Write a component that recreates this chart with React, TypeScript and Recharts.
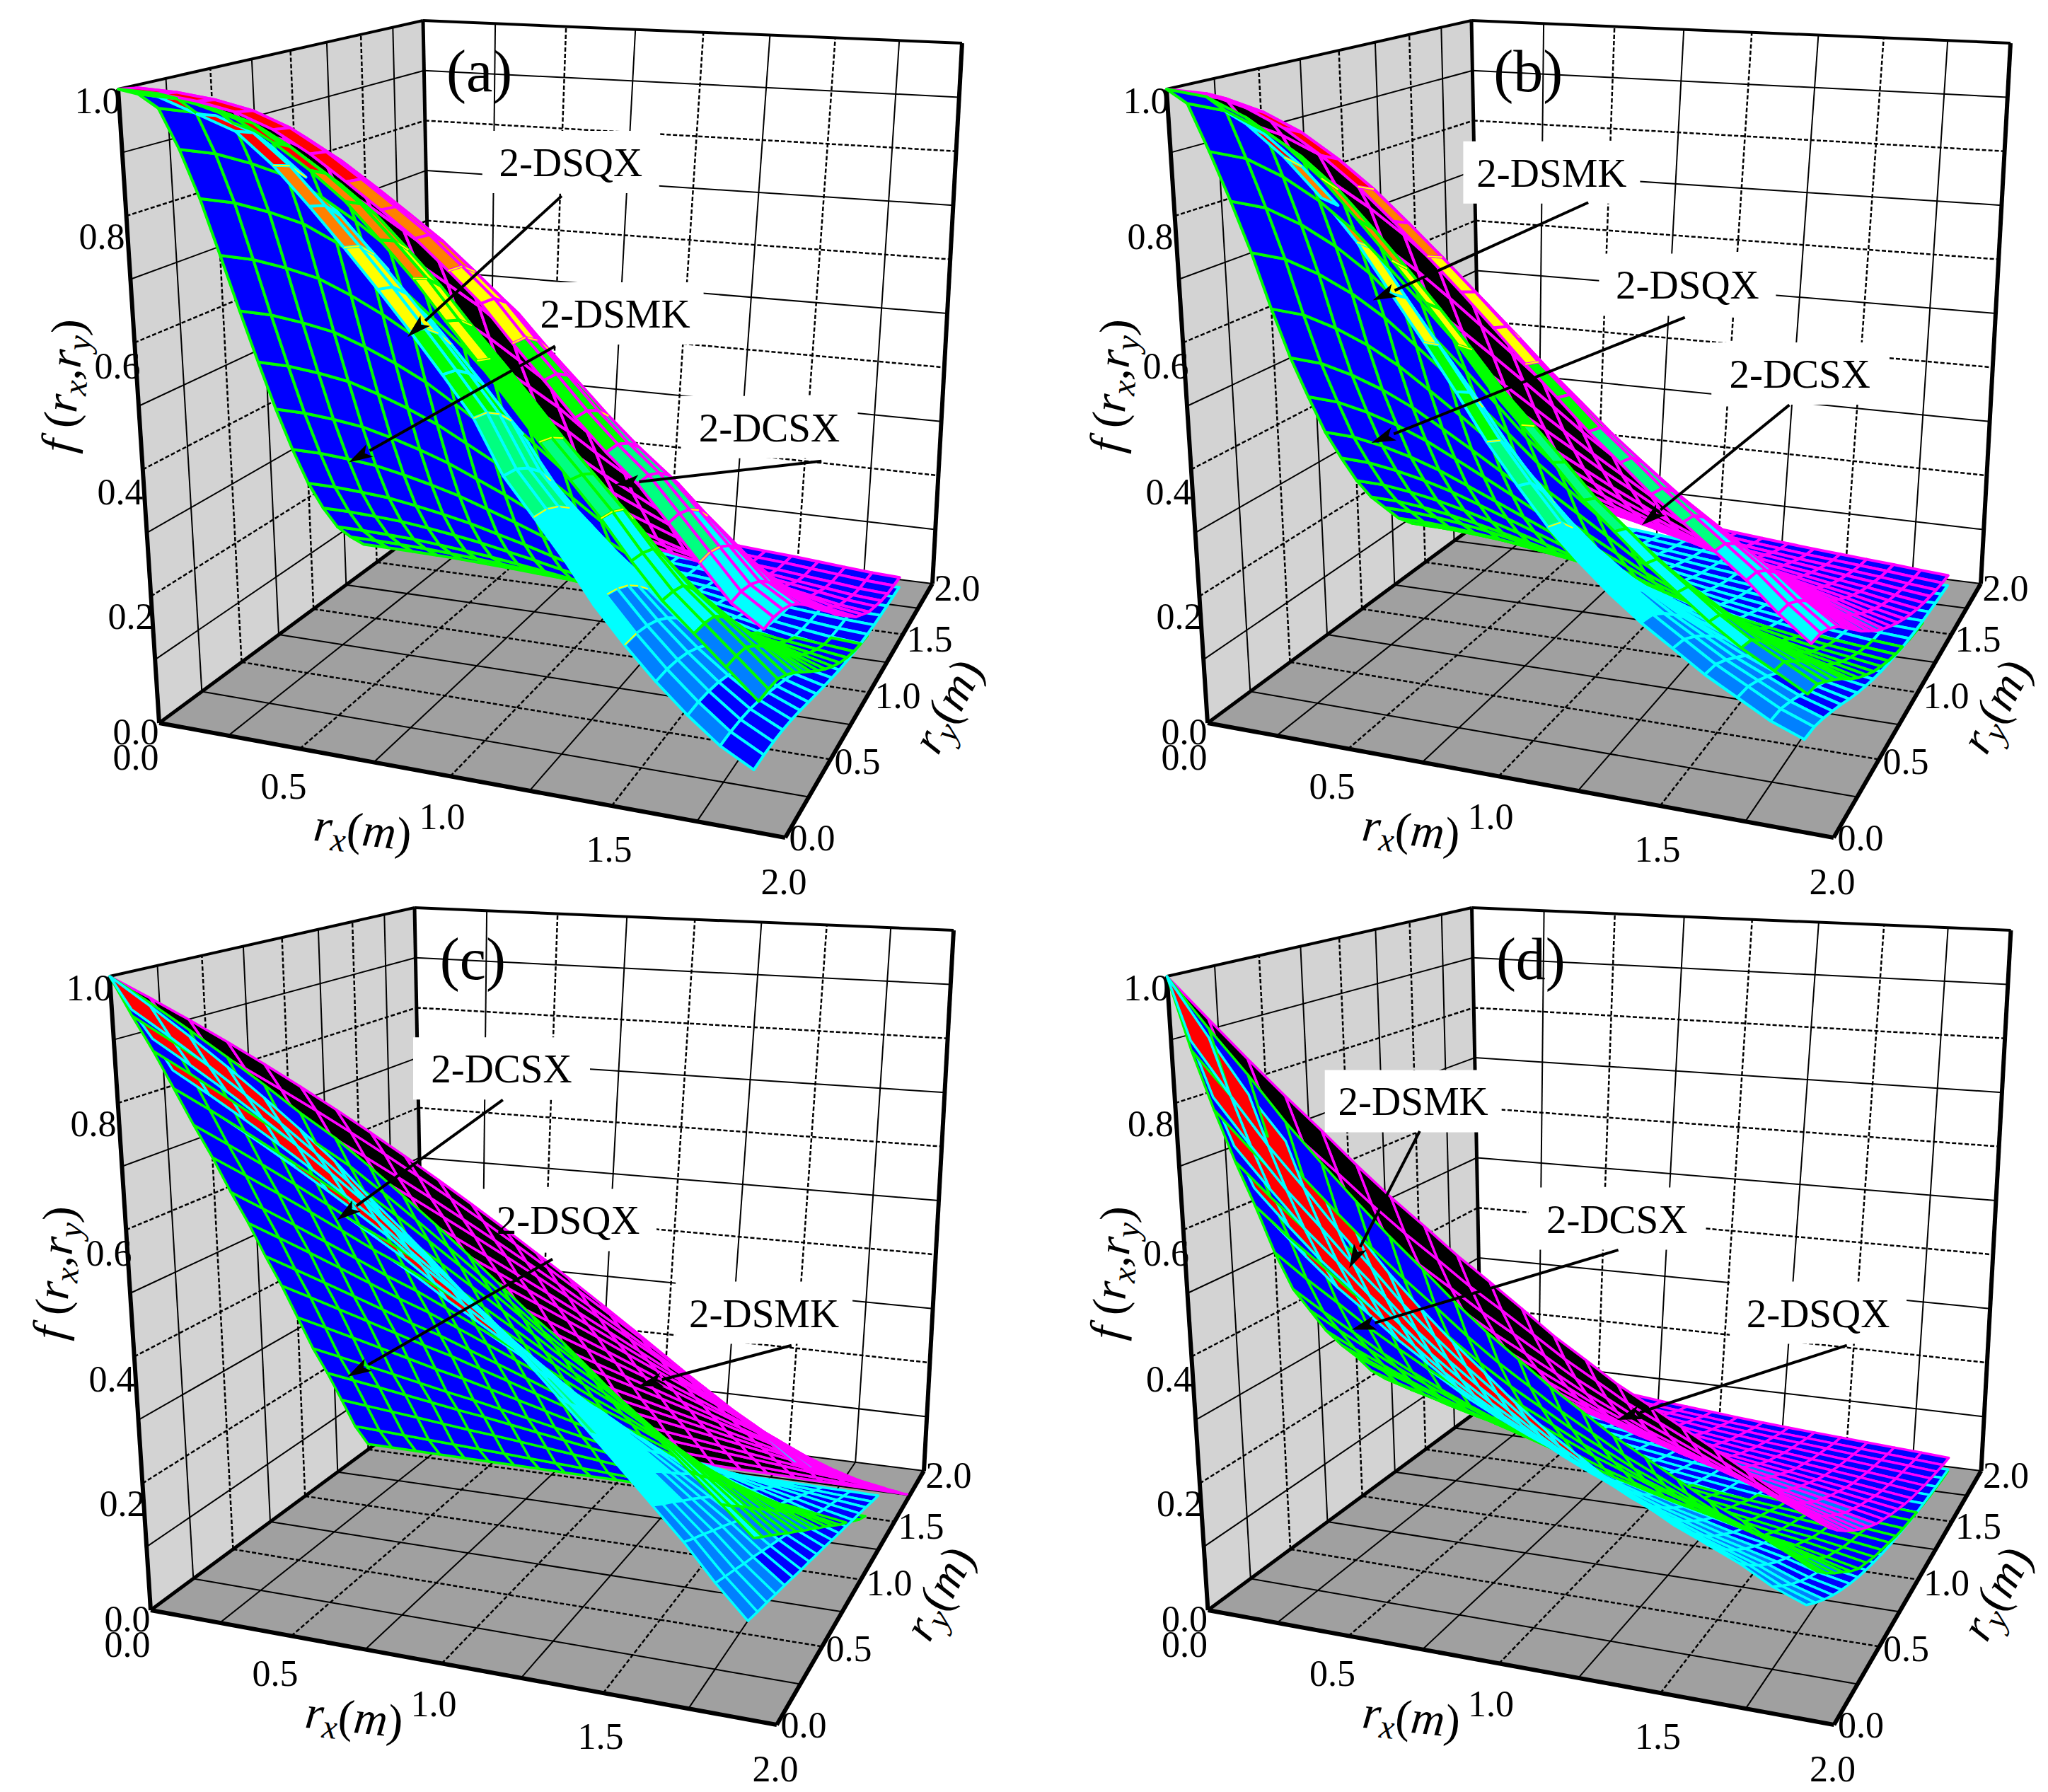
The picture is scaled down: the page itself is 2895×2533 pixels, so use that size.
// App.tsx - four 3D correlation surfaces drawn through a ScatterChart with custom shapes
import { ScatterChart, Scatter, XAxis, YAxis } from 'recharts';

const W = 2895;
const H = 2533;
const V = W / 1568; // reference view to full size

// grid nodes of the surfaces (m)
const rxNodes = [0, 0.1, 0.2, 0.3, 0.4, 0.5, 0.6, 0.7, 0.8, 0.9, 1.0, 1.1, 1.2, 1.3, 1.4, 1.5, 1.6, 1.7, 1.8, 1.9, 2.0];
const ryNodes = [0, 0.1, 0.2, 0.3, 0.4, 0.5, 0.6, 0.7, 0.8, 0.9, 1.0, 1.1, 1.2, 1.3, 1.4, 1.5, 1.6, 1.7, 1.8, 1.9];
const axisTicks = ['0.0', '0.5', '1.0', '1.5', '2.0'];
const fTicks = ['0.0', '0.2', '0.4', '0.6', '0.8', '1.0'];

// panel (a), profiles read along ry=0 and rx=0
const aGreenX = [1, 0.995, 0.98, 0.96, 0.925, 0.885, 0.84, 0.785, 0.73, 0.67, 0.615, 0.56, 0.505, 0.455, 0.405, 0.35, 0.3, 0.26, 0.22, 0.18];
const aGreenY = [1, 0.985, 0.955, 0.88, 0.79, 0.685, 0.58, 0.48, 0.385, 0.3, 0.225, 0.165, 0.115, 0.08, 0.05];
const aCyanX = [1, 0.99, 0.965, 0.94, 0.89, 0.83, 0.77, 0.71, 0.65, 0.59, 0.53, 0.45, 0.395, 0.34, 0.28, 0.23, 0.185, 0.145, 0.11, 0.085];
const aCyanY = [1, 0.99, 0.96, 0.915, 0.85, 0.77, 0.68, 0.59, 0.5, 0.42, 0.34, 0.28, 0.22, 0.175, 0.14, 0.11, 0.09, 0.075, 0.06, 0.05];
const aPinkX = [1, 0.995, 0.985, 0.97, 0.945, 0.91, 0.87, 0.83, 0.79, 0.745, 0.7, 0.645, 0.595, 0.545, 0.5, 0.46, 0.41, 0.36, 0.31, 0.28];
const aPinkY = [1, 0.995, 0.97, 0.93, 0.87, 0.8, 0.72, 0.645, 0.57, 0.49, 0.42, 0.35, 0.28, 0.23, 0.18, 0.15, 0.12, 0.1, 0.09, 0.08];

// panel (b)
const bGreenX = [1, 0.99, 0.96, 0.92, 0.87, 0.81, 0.75, 0.69, 0.63, 0.57, 0.52, 0.47, 0.42, 0.38, 0.34, 0.305, 0.27, 0.24, 0.215, 0.19];
const bGreenY = [1, 0.97, 0.885, 0.795, 0.7, 0.595, 0.5, 0.42, 0.345, 0.285, 0.23, 0.185, 0.15, 0.115, 0.09, 0.07];
const bCyanX = [1, 0.985, 0.95, 0.9, 0.84, 0.775, 0.7, 0.63, 0.56, 0.49, 0.43, 0.375, 0.33, 0.29, 0.255, 0.225, 0.195, 0.17, 0.145, 0.127];
const bCyanY = [1, 0.975, 0.91, 0.83, 0.745, 0.65, 0.565, 0.49, 0.42, 0.36, 0.31, 0.265, 0.22, 0.185, 0.155, 0.13, 0.11, 0.09, 0.075, 0.06];
const bPinkX = [1, 0.995, 0.975, 0.945, 0.905, 0.86, 0.81, 0.76, 0.71, 0.66, 0.61, 0.565, 0.52, 0.48, 0.44, 0.405, 0.37, 0.335, 0.295, 0.26];
const bPinkY = [1, 0.985, 0.94, 0.88, 0.8, 0.72, 0.64, 0.57, 0.5, 0.44, 0.385, 0.335, 0.29, 0.25, 0.215, 0.185, 0.16, 0.135, 0.115, 0.1];

// panel (c)
const cGreenX = [1, 0.96, 0.92, 0.88, 0.84, 0.8, 0.765, 0.725, 0.685, 0.645, 0.605, 0.565, 0.525, 0.49, 0.45, 0.41, 0.37, 0.33, 0.29, 0.25];
const cGreenY = [1, 0.93, 0.865, 0.795, 0.725, 0.66, 0.59, 0.525, 0.455, 0.39, 0.32, 0.25, 0.19, 0.125, 0.06, 0.01];
const cCyanX = [1, 0.955, 0.91, 0.865, 0.82, 0.775, 0.73, 0.68, 0.635, 0.59, 0.545, 0.5, 0.455, 0.41, 0.365, 0.32, 0.275, 0.23, 0.18, 0.135];
const cCyanY = [1, 0.94, 0.885, 0.825, 0.77, 0.71, 0.65, 0.595, 0.535, 0.48, 0.42, 0.36, 0.305, 0.245, 0.19, 0.13, 0.07, 0.015];
const cPinkX = [1, 0.968, 0.936, 0.904, 0.872, 0.84, 0.808, 0.776, 0.744, 0.712, 0.68, 0.648, 0.616, 0.584, 0.552, 0.52, 0.488, 0.456, 0.424, 0.392, 0.36];
const cPinkY = [1, 0.945, 0.885, 0.83, 0.77, 0.715, 0.66, 0.6, 0.545, 0.485, 0.43, 0.37, 0.315, 0.26, 0.2, 0.145, 0.085, 0.03];

// panel (d)
const dGreenX = [1, 0.92, 0.85, 0.78, 0.72, 0.665, 0.615, 0.57, 0.525, 0.485, 0.45, 0.415, 0.385, 0.355, 0.33, 0.305, 0.28, 0.26, 0.235, 0.21];
const dGreenY = [1, 0.875, 0.77, 0.675, 0.59, 0.5, 0.425, 0.375, 0.325, 0.285, 0.25, 0.21, 0.18, 0.155, 0.13, 0.11, 0.09, 0.075, 0.06, 0.05];
const dCyanX = [1, 0.905, 0.82, 0.75, 0.68, 0.62, 0.56, 0.51, 0.465, 0.425, 0.385, 0.35, 0.32, 0.29, 0.265, 0.24, 0.22, 0.2, 0.175, 0.157];
const dCyanY = [1, 0.89, 0.79, 0.7, 0.62, 0.55, 0.485, 0.43, 0.38, 0.335, 0.295, 0.26, 0.23, 0.2, 0.175, 0.155, 0.135, 0.115, 0.1, 0.085];
const dPinkX = [1, 0.935, 0.875, 0.82, 0.77, 0.72, 0.675, 0.635, 0.595, 0.56, 0.525, 0.49, 0.46, 0.43, 0.405, 0.38, 0.355, 0.33, 0.305, 0.28];
const dPinkY = [1, 0.9, 0.81, 0.73, 0.66, 0.595, 0.535, 0.48, 0.43, 0.39, 0.35, 0.315, 0.28, 0.25, 0.225, 0.2, 0.18, 0.16, 0.14, 0.125];

const bandColors = ['#0000ff', '#0080ff', '#00ffff', '#00ff80', '#00ff00', '#ffff00', '#ff8000', '#ff0000'];
const GREEN = '#00ff00';
const CYAN = '#00ffff';
const PINK = '#ff00ff';

// box corners of panel (a), the others are shifted copies
const box = {
  O: [225, 1022], A: [1110, 1184], C: [1318, 825], B: [612, 736],
  T0: [167, 126], Tb: [598, 29], Tc: [1360, 61],
};

const panels = [
  {
    name: '(a)', dx: 0, dy: 0, namePos: [367, 58], meshW: 4,
    surfaces: [
      { x: aPinkX, y: aPinkY, mesh: PINK, under: '#000000', bias: 0 },
      { x: aCyanX, y: aCyanY, mesh: CYAN, under: '#0000ff', bias: 0.02 },
      { x: aGreenX, y: aGreenY, mesh: GREEN, under: '#0000ff', bias: 0.05 },
    ],
    notes: [
      { t: '2-DSQX', c: [437, 124], from: [430, 150], to: [312, 258] },
      { t: '2-DSMK', c: [471, 240], from: [425, 265], to: [267, 354] },
      { t: '2-DCSX', c: [589, 327], from: [629, 353], to: [471, 371] },
    ],
  },
  {
    name: '(b)', dx: 1482, dy: 0, namePos: [1170, 58], meshW: 4,
    surfaces: [
      { x: bPinkX, y: bPinkY, mesh: PINK, under: '#000000', bias: 0 },
      { x: bCyanX, y: bCyanY, mesh: CYAN, under: '#0000ff', bias: 0.02 },
      { x: bGreenX, y: bGreenY, mesh: GREEN, under: '#0000ff', bias: 0.05 },
    ],
    notes: [
      { t: '2-DSMK', c: [1188, 132], from: [1216, 155], to: [1051, 230] },
      { t: '2-DSQX', c: [1292, 218], from: [1290, 243], to: [1050, 339] },
      { t: '2-DCSX', c: [1378, 286], from: [1370, 310], to: [1257, 402] },
    ],
  },
  {
    name: '(c)', dx: -12, dy: 1254, namePos: [362, 738], meshW: 3.5,
    surfaces: [
      { x: cPinkX, y: cPinkY, mesh: PINK, under: '#000000', bias: 0 },
      { x: cCyanX, y: cCyanY, mesh: CYAN, under: '#ff0000', bias: 0.04 },
      { x: cGreenX, y: cGreenY, mesh: GREEN, under: '#0000ff', bias: 0.03 },
    ],
    notes: [
      { t: '2-DCSX', c: [384, 818], from: [385, 842], to: [258, 934] },
      { t: '2-DSQX', c: [435, 934], from: [423, 964], to: [266, 1054] },
      { t: '2-DSMK', c: [585, 1005], from: [606, 1030], to: [489, 1061] },
    ],
  },
  {
    name: '(d)', dx: 1482.5, dy: 1254, namePos: [1172, 738], meshW: 3.5,
    surfaces: [
      { x: dPinkX, y: dPinkY, mesh: PINK, under: '#000000', bias: 0 },
      { x: dCyanX, y: dCyanY, mesh: CYAN, under: '#ff0000', bias: 0.04 },
      { x: dGreenX, y: dGreenY, mesh: GREEN, under: '#0000ff', bias: 0.03 },
    ],
    notes: [
      { t: '2-DSMK', c: [1082, 843], from: [1087, 866], to: [1033, 971] },
      { t: '2-DCSX', c: [1238, 933], from: [1239, 957], to: [1035, 1018] },
      { t: '2-DSQX', c: [1392, 1005], from: [1414, 1030], to: [1238, 1087] },
    ],
  },
];

type Pt = number[];

function cross(p: Pt, q: Pt, r: Pt, s: Pt): Pt {
  const a1 = q[1] - p[1];
  const b1 = p[0] - q[0];
  const c1 = a1 * p[0] + b1 * p[1];
  const a2 = s[1] - r[1];
  const b2 = r[0] - s[0];
  const c2 = a2 * r[0] + b2 * r[1];
  const det = a1 * b2 - a2 * b1;
  return [(c1 * b2 - c2 * b1) / det, (a1 * c2 - a2 * c1) / det];
}

// unit square to quad
function homography(p0: Pt, p1: Pt, p2: Pt, p3: Pt) {
  const dx1 = p1[0] - p2[0];
  const dx2 = p3[0] - p2[0];
  const dx3 = p0[0] - p1[0] + p2[0] - p3[0];
  const dy1 = p1[1] - p2[1];
  const dy2 = p3[1] - p2[1];
  const dy3 = p0[1] - p1[1] + p2[1] - p3[1];
  const den = dx1 * dy2 - dx2 * dy1;
  const g = (dx3 * dy2 - dx2 * dy3) / den;
  const h = (dx1 * dy3 - dx3 * dy1) / den;
  const a = p1[0] - p0[0] + g * p1[0];
  const b = p3[0] - p0[0] + h * p3[0];
  const d = p1[1] - p0[1] + g * p1[1];
  const e = p3[1] - p0[1] + h * p3[1];
  return (u: number, v: number): Pt => {
    const w = g * u + h * v + 1;
    return [(a * u + b * v + p0[0]) / w, (d * u + e * v + p0[1]) / w];
  };
}

const vpX = cross(box.O, box.A, box.B, box.C);
const vpY = cross(box.O, box.B, box.A, box.C);
const topFront = cross(box.T0, vpX, box.Tc, vpY);
const floorMap = homography(box.O, box.A, box.C, box.B);
const topMap = homography(box.T0, topFront, box.Tc, box.Tb);

function project(rx: number, ry: number, f: number, dx: number, dy: number): Pt {
  const a = floorMap(rx / 2, ry / 2);
  const b = topMap(rx / 2, ry / 2);
  return [a[0] + (b[0] - a[0]) * f + dx, a[1] + (b[1] - a[1]) * f + dy];
}

function poly(pts: Pt[], fill: string, stroke: string, w: number) {
  return { kind: 'poly', x: pts[0][0], y: pts[0][1], pts, fill, stroke, w };
}

function line(pts: Pt[], stroke: string, w: number, dash?: string) {
  return { kind: 'line', x: pts[0][0], y: pts[0][1], pts, stroke, w, dash };
}

function text(pos: Pt, parts: any[], size: number, rotate = 0) {
  return { kind: 'text', x: pos[0], y: pos[1], parts, size, rotate };
}

function band(f: number) {
  return Math.max(0, Math.min(7, Math.floor(f * 8)));
}

function surfaceCells(panel: any) {
  const cells: any[] = [];
  panel.surfaces.forEach((s: any) => {
    const val = (i: number, j: number) => s.x[i] * s.y[j];
    const at = (i: number, j: number) => project(rxNodes[i], ryNodes[j], val(i, j), panel.dx, panel.dy);
    const mean = (i: number, j: number) => (val(i, j) + val(i + 1, j) + val(i + 1, j + 1) + val(i, j + 1)) / 4;
    for (let i = 0; i < s.x.length - 1; i++) {
      for (let j = 0; j < s.y.length - 1; j++) {
        const pts = [at(i, j), at(i + 1, j), at(i + 1, j + 1), at(i, j + 1)];
        let area = 0;
        pts.forEach((p, k) => {
          const q = pts[(k + 1) % 4];
          area += p[0] * q[1] - q[0] * p[1];
        });
        const m = mean(i, j);
        const u = (rxNodes[i] + rxNodes[i + 1]) / 4;
        const v = (ryNodes[j] + ryNodes[j + 1]) / 4;
        const top = area < 0;
        const depth = -0.39 * u + 0.82 * v - 0.42 * m - (top ? 0 : s.bias);
        const mark: any = poly(pts, top ? bandColors[band(m)] : s.under, s.mesh, panel.meshW);
        mark.depth = depth;
        cells.push(mark);
        // thin contour where the colour band changes
        if (top && i < s.x.length - 2 && band(m) !== band(mean(i + 1, j))) {
          const edge: any = line([pts[1], pts[2]], '#ffff00', 2);
          edge.depth = depth - 0.001;
          cells.push(edge);
        }
      }
    }
  });
  // far cells first
  cells.sort((p, q) => q.depth - p.depth);
  return cells;
}

function buildPanel(panel: any) {
  const { dx, dy } = panel;
  const p = (rx: number, ry: number, f: number) => project(rx, ry, f, dx, dy);
  const s = (pt: Pt): Pt => [pt[0] + dx, pt[1] + dy];
  const marks: any[] = [];

  // walls and floor
  marks.push(poly([p(0, 0, 0), p(0, 2, 0), p(0, 2, 1), p(0, 0, 1)], '#d3d3d3', 'none', 0));
  marks.push(poly([p(0, 0, 0), p(2, 0, 0), p(2, 2, 0), p(0, 2, 0)], '#a0a0a0', 'none', 0));

  for (let k = 1; k < 8; k++) {
    const q = k * 0.25;
    const dash = k % 2 === 0 ? '6 3' : undefined;
    const w = k % 2 === 0 ? 2.5 : 2;
    marks.push(line([p(0, q, 0), p(0, q, 1)], '#000', w, dash));
    marks.push(line([p(q, 2, 0), p(q, 2, 1)], '#000', w, dash));
    marks.push(line([p(q, 0, 0), p(q, 2, 0)], '#000', w, dash));
    marks.push(line([p(0, q, 0), p(2, q, 0)], '#000', w, dash));
  }
  for (let k = 1; k < 10; k++) {
    const q = k * 0.1;
    const dash = k % 2 === 0 ? '6 3' : undefined;
    const w = k % 2 === 0 ? 2.5 : 2;
    marks.push(line([p(0, 0, q), p(0, 2, q)], '#000', w, dash));
    marks.push(line([p(0, 2, q), p(2, 2, q)], '#000', w, dash));
  }
  marks.push(line([p(0, 2, 0), p(2, 2, 0)], '#000', 2));
  marks.push(line([p(0, 0, 0), p(0, 0, 1)], '#000', 6));
  marks.push(line([p(0, 0, 1), p(0, 2, 1)], '#000', 4));
  marks.push(line([p(0, 2, 1), p(2, 2, 1)], '#000', 4));
  marks.push(line([p(2, 2, 1), p(2, 2, 0)], '#000', 6));
  marks.push(line([p(0, 2, 0), p(0, 2, 1)], '#000', 5));
  marks.push(line([p(0, 0, 0), p(0, 2, 0)], '#000', 5));
  marks.push(line([p(0, 0, 0), p(2, 0, 0)], '#000', 6));
  marks.push(line([p(2, 0, 0), p(2, 2, 0)], '#000', 6));

  // label boxes sit behind the surfaces
  panel.notes.forEach((n: any) => {
    const c = [n.c[0] * V, n.c[1] * V];
    marks.push(
      poly(
        [
          [c[0] - 125, c[1] - 44],
          [c[0] + 125, c[1] - 44],
          [c[0] + 125, c[1] + 44],
          [c[0] - 125, c[1] + 44],
        ],
        '#ffffff',
        'none',
        0,
      ),
    );
  });

  marks.push(...surfaceCells(panel));

  // tick labels
  const fPos = [[192, 1034], [185, 871], [170, 695], [166, 517], [144, 334], [138, 142]];
  const rxPos = [[192, 1070], [401, 1111], [625, 1154], [861, 1200], [1108, 1246]];
  const ryPos = [[1148, 1184], [1212, 1076], [1269, 983], [1314, 903], [1353, 831]];
  fTicks.forEach((t, i) => marks.push(text(s(fPos[i]), [{ t }], 52)));
  axisTicks.forEach((t, i) => marks.push(text(s(rxPos[i]), [{ t }], 52)));
  axisTicks.forEach((t, i) => marks.push(text(s(ryPos[i]), [{ t }], 52)));

  // axis titles
  marks.push(text(s([513, 1172]), [{ t: 'r', i: true }, { t: 'x', i: true, sub: true }, { t: '(' }, { t: 'm', i: true }, { t: ')' }], 66, 6));
  marks.push(text(s([1338, 997]), [{ t: 'r', i: true }, { t: 'y', i: true, sub: true }, { t: '(' }, { t: 'm', i: true }, { t: ')' }], 66, -62));
  marks.push(
    text(
      s([88, 545]),
      [{ t: 'f ', i: true }, { t: '(' }, { t: 'r', i: true }, { t: 'x', i: true, sub: true }, { t: ',' }, { t: 'r', i: true }, { t: 'y', i: true, sub: true }, { t: ')' }],
      66,
      -85,
    ),
  );

  // panel name and labelled arrows
  marks.push(text([panel.namePos[0] * V, (panel.namePos[1] - 4) * V], [{ t: panel.name }], 84));
  panel.notes.forEach((n: any) => {
    const from = [n.from[0] * V, n.from[1] * V];
    const to = [n.to[0] * V, n.to[1] * V];
    marks.push(text([n.c[0] * V, n.c[1] * V], [{ t: n.t }], 57));
    const len = Math.hypot(to[0] - from[0], to[1] - from[1]);
    const ux = (to[0] - from[0]) / len;
    const uy = (to[1] - from[1]) / len;
    const back = [to[0] - ux * 34, to[1] - uy * 34];
    marks.push(line([from, back], '#000', 4));
    marks.push(
      poly(
        [to, [back[0] - uy * 10, back[1] + ux * 10], [to[0] - ux * 26, to[1] - uy * 26], [back[0] + uy * 10, back[1] - ux * 10]],
        '#000',
        'none',
        0,
      ),
    );
  });
  return marks;
}

function Mark(props: any) {
  const { cx, cy, payload: m } = props;
  if (m.kind === 'text') {
    return (
      <text
        x={cx}
        y={cy}
        textAnchor="middle"
        dominantBaseline="central"
        fontFamily="'Liberation Serif', serif"
        fontSize={m.size}
        fill="#000"
        transform={m.rotate ? `rotate(${m.rotate} ${cx} ${cy})` : undefined}
      >
        {m.parts.map((part: any, i: number) => {
          const wasSub = i > 0 && m.parts[i - 1].sub;
          const shift = part.sub ? m.size * 0.28 : wasSub ? -m.size * 0.28 : 0;
          return (
            <tspan key={i} fontStyle={part.i ? 'italic' : 'normal'} fontSize={part.sub ? m.size * 0.72 : m.size} dy={shift}>
              {part.t}
            </tspan>
          );
        })}
      </text>
    );
  }
  const rel = m.pts.map((q: Pt) => `${(q[0] - m.x + cx).toFixed(1)},${(q[1] - m.y + cy).toFixed(1)}`).join(' ');
  if (m.kind === 'line') {
    return <polyline points={rel} fill="none" stroke={m.stroke} strokeWidth={m.w} strokeDasharray={m.dash} />;
  }
  return <polygon points={rel} fill={m.fill} stroke={m.stroke} strokeWidth={m.w} strokeLinejoin="round" />;
}

const panelMarks = panels.map(buildPanel);

export default function App() {
  return (
    <div style={{ position: 'absolute', left: 0, top: 0, width: W, height: H, background: '#fff' }}>
      <ScatterChart width={W} height={H} margin={{ top: 0, right: 0, bottom: 0, left: 0 }}>
        <XAxis type="number" dataKey="x" domain={[0, W]} hide allowDataOverflow />
        <YAxis type="number" dataKey="y" domain={[0, H]} reversed hide allowDataOverflow />
        {panelMarks.map((marks, i) => (
          <Scatter key={i} data={marks} isAnimationActive={false} shape={(props: any) => <Mark {...props} />} />
        ))}
      </ScatterChart>
    </div>
  );
}
